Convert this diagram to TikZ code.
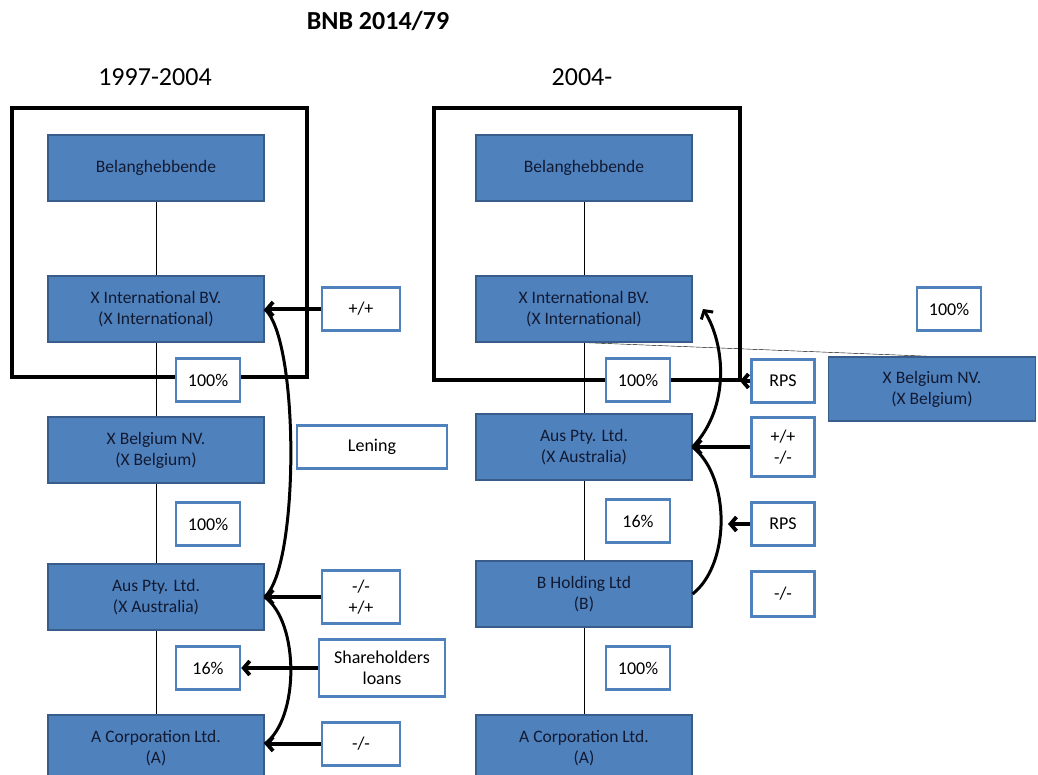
\documentclass[tikz,border=0pt]{standalone}
\usepackage{fontspec}
\setmainfont{Carlito}
\usepackage{xcolor}
\usetikzlibrary{arrows.meta, backgrounds}
\definecolor{firmblue}{RGB}{79,129,189}
\definecolor{firmedge}{RGB}{56,93,138}
\definecolor{firmtext}{RGB}{18,26,50}

\begin{document}
\begin{tikzpicture}[x=1pt,y=-1pt]
			\tikzset{firm/.style={draw=firmedge,fill=firmblue,line width=1.2pt,minimum width=216pt,minimum height=66pt,align=center,text=firmtext,font=\fontsize{17.5}{21}\selectfont}}
			\tikzset{tag/.style={draw=firmblue,fill=white,line width=2.5pt,minimum width=#1,minimum height=43pt,align=center,font=\fontsize{18}{21}\selectfont},tag/.default=64pt}
			\tikzset{frame/.style={line width=3.5pt}, pijl/.style={line width=3.8pt,-{Straight Barb[length=6pt,width=14pt]}}, boog/.style={line width=3pt}}
			
			\path[use as bounding box] (0,0) rectangle (1038,775);
			\clip (0,0) rectangle (1038,775);
			
			\node[font=\fontsize{26}{30}\selectfont\bfseries] (titel) at (378,21) {BNB 2014/79};
			\node[font=\fontsize{26}{30}\selectfont] (links) at (155,77) {1997-2004};
			\node[font=\fontsize{26}{30}\selectfont] (rechts) at (582,77) {2004-};
			
			\draw[frame] (12,108) rectangle (307,377);
			\draw[frame] (434,108) rectangle (740,380);
			
			\node [firm] (lbel) at (156,168) {Belanghebbende};
			\node [firm] (lint) at (156,309) {X International BV.\\(X International)};
			\node [firm] (lbelg) at (156,450) {X Belgium NV.\\(X Belgium)};
			\node [firm] (laus) at (156,597) {Aus Pty. Ltd.\\(X Australia)};
			\node [firm] (lacorp) at (156,748) {A Corporation Ltd.\\(A)};
			
			\node [tag] (lp1) at (208,380) {100\%};
			\node [tag] (lp2) at (208,524) {100\%};
			\node [tag] (lp3) at (208,668) {16\%};
			\node [tag=78pt] (lpp) at (361,309) {+/+};
			\node [tag=150pt] (lening) at (372,447) {Lening};
			\node [tag=78pt,minimum height=53pt] (lmp) at (361,597) {-/-\\+/+};
			\node [tag=126pt,minimum height=57pt] (lsh) at (382,668) {Shareholders\\loans};
			\node [tag=78pt] (lmm) at (361,744) {-/-};
			
			\draw[pijl] (lpp) -- (lint);
			\draw[pijl] (lmp) -- (laus);
			\draw[pijl] (lsh) -- (lp3);
			\draw[pijl] (lmm.west) -- (lacorp.east |- lmm.west);
			\draw[boog] (lint.east) .. controls +(35,30) and +(35,-30) .. (laus.east);
			\draw[boog] (laus.east) .. controls +(35,25) and +(35,-25) .. (lacorp.east |- lmm.west);
			
			\node [firm] (rbel) at (584,168) {Belanghebbende};
			\node [firm] (rint) at (584,309) {X International BV.\\(X International)};
			\node [firm] (raus) at (584,447) {Aus Pty. Ltd.\\(X Australia)};
			\node [firm] (rbh) at (584,594) {B Holding Ltd\\(B)};
			\node [firm] (racorp) at (584,748) {A Corporation Ltd.\\(A)};
			\node [firm,minimum width=207pt,minimum height=64pt] (rbelg) at (932,389) {X Belgium NV.\\(X Belgium)};
			
			\node [tag] (rp1) at (638,380) {100\%};
			\node [tag] (rp2) at (638,521) {16\%};
			\node [tag] (rp3) at (638,668) {100\%};
			\node [tag] (rp4) at (949,309) {100\%};
			\node [tag=63pt] (rrps1) at (783,381) {RPS};
			\node [tag=63pt,minimum height=59pt] (rpm) at (783,447) {+/+\\-/-};
			\node [tag=63pt] (rrps2) at (783,524) {RPS};
			\node [tag=63pt,minimum height=45pt] (rmm) at (783,594) {-/-};
			
			\coordinate (hoek) at (740,381);
			\coordinate (boogpunt) at (728,524);
			\coordinate (rinttop) at (703,309);
			\draw[pijl] (rrps1) -- (hoek);
			\draw[pijl] (rpm) -- (raus);
			\draw[pijl] (rrps2) -- (boogpunt);
			\draw[boog,-{Straight Barb[length=6pt,width=14pt]}] (raus.east) .. controls +(38,-40) and +(22,35) .. (rinttop);
			\draw[boog] (raus.east) .. controls +(38,30) and +(38,-30) .. (rbh.east);
			
			\begin{scope}[on background layer]
			\fill[white] (0,0) rectangle (1038,775);
			\draw (lbel) -- (lacorp);
			\draw (rbel) -- (racorp);
			\draw (rint.south) -- (rbelg.north);
			\end{scope}
			\end{tikzpicture}
\end{document}
